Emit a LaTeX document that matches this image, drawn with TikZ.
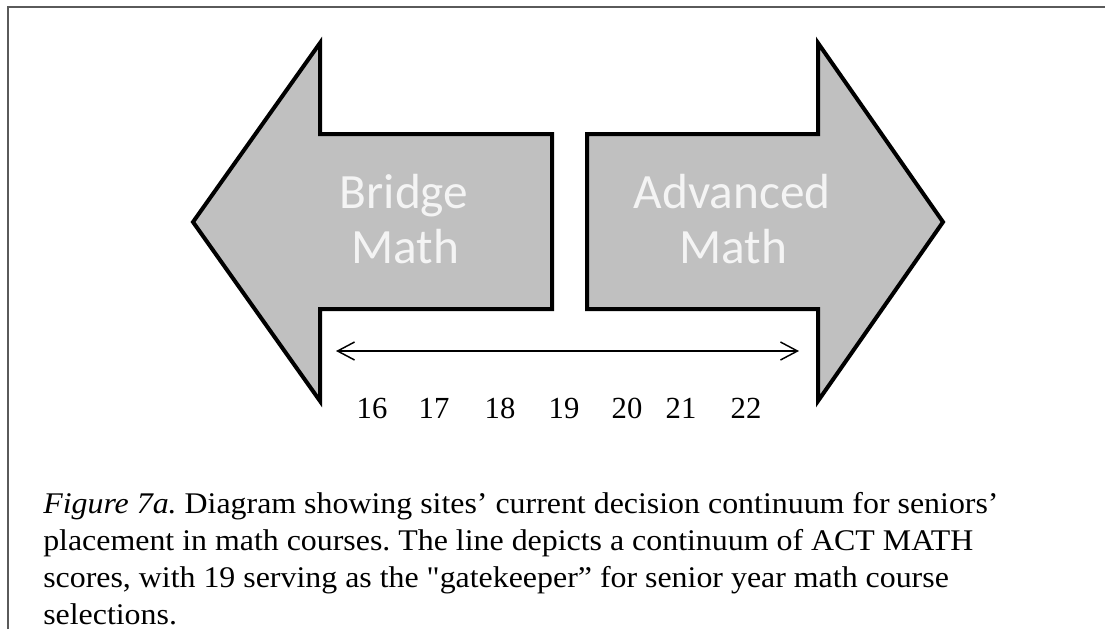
\documentclass[tikz,border=0pt]{standalone}
\usepackage{fontspec}
\setmainfont{Liberation Serif}
\newfontfamily\calib{Carlito}
\newfontfamily\capfont[FakeStretch=1.063]{Liberation Serif}
\usetikzlibrary{arrows.meta}
\definecolor{framegray}{HTML}{5A5A5A}
\definecolor{arrowfill}{HTML}{C0C0C0}
\definecolor{arrowtextcol}{HTML}{F4F4F4}
\tikzset{
  bigarrow/.style={draw=black, fill=arrowfill, line width=3pt, line join=miter},
  arrowtext/.style={font=\calib\fontsize{37pt}{44pt}\selectfont, text=arrowtextcol, inner sep=0pt, anchor=base},
  scorelabel/.style={font=\fontsize{23pt}{27pt}\selectfont, inner sep=0pt, anchor=base},
  captionline/.style={font=\capfont\fontsize{22.5pt}{27pt}\selectfont, inner sep=0pt, anchor=base west},
}
\frenchspacing
\begin{document}
\begin{tikzpicture}[x={(0.75pt,0)}, y={(0,-0.75pt)}]
\useasboundingbox (0,0) rectangle (1105,629);
% frame
\draw[framegray, line width=1.5pt] (8,629) -- (8,6.5) -- (1105,6.5);
% left arrow
\draw[bigarrow] (193,222) -- (320,43) -- (320,134) -- (552,134) -- (552,309) -- (320,309) -- (320,401) -- cycle;
% right arrow
\draw[bigarrow] (587,134) -- (818,134) -- (818,43) -- (943,222) -- (818,401) -- (818,309) -- (587,309) -- cycle;
% arrow texts
\node[arrowtext] (bridge) at (404,208) {Bridge};
\node[arrowtext] (bmath) at (405,263) {Math};
\node[arrowtext] (adv) at (732,208) {Advanced};
\node[arrowtext] (amath) at (733,263) {Math};
% continuum line
\coordinate (lo) at (336,351);
\coordinate (hi) at (799,351);
\draw[line width=1.1pt, {Straight Barb[length=12.75pt, width=13.5pt]}-{Straight Barb[length=12.75pt, width=13.5pt]}] (lo) -- (hi);
% scores
\node[scorelabel] (s16) at (372,418) {16};
\node[scorelabel] (s17) at (434,418) {17};
\node[scorelabel] (s18) at (500,418) {18};
\node[scorelabel] (s19) at (564,418) {19};
\node[scorelabel] (s20) at (627,418) {20};
\node[scorelabel] (s21) at (681,418) {21};
\node[scorelabel] (s22) at (746,418) {22};
% caption
\node[captionline] (c1) at (43,513) {\textit{Figure 7a.} Diagram showing sites’ current decision continuum for seniors’};
\node[captionline] (c2) at (43,550) {placement in math courses. The line depicts a continuum of ACT MATH};
\node[captionline] (c3) at (43,587) {scores, with 19 serving as the \symbol{34}gatekeeper” for senior year math course};
\node[captionline] (c4) at (43,624) {selections.};
\end{tikzpicture}
\end{document}
